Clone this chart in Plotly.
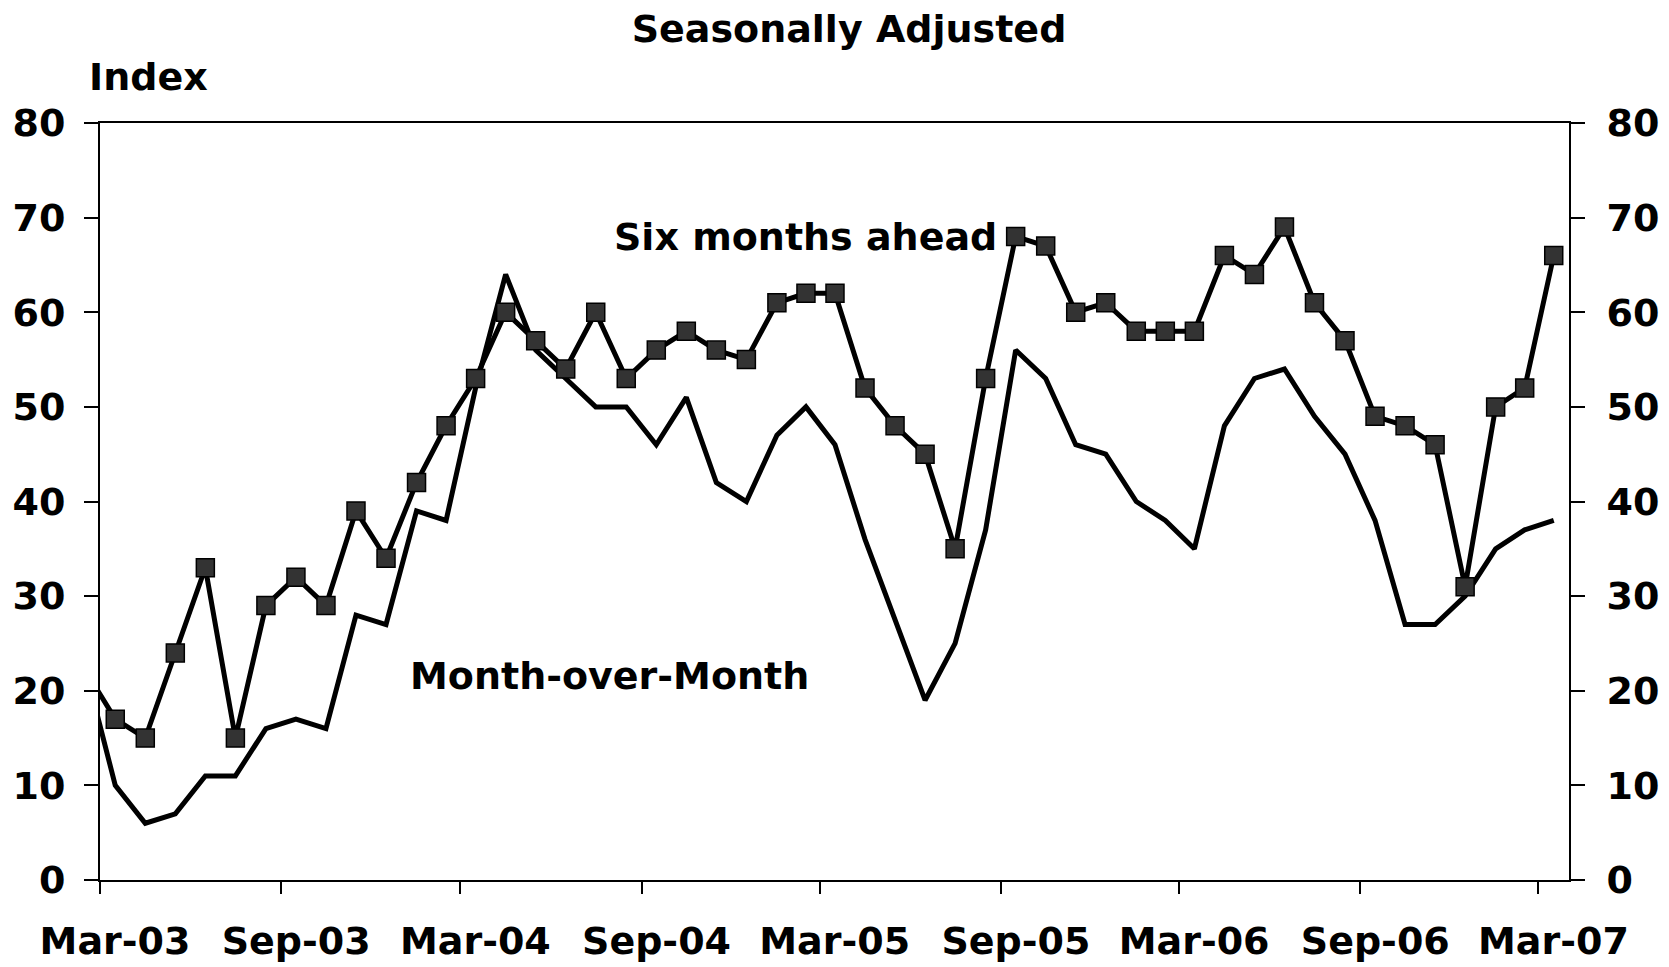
import pandas as pd
import plotly.graph_objects as go

# Monthly data, Feb-03 .. Mar-07 (Feb-03 only partly visible at the left edge)
months = pd.date_range("2003-02-01", periods=50, freq="MS")
six_months_ahead = [22, 17, 15, 24, 33, 15, 29, 32, 29, 39, 34, 42, 48, 53, 60, 57, 54,
                    60, 53, 56, 58, 56, 55, 61, 62, 62, 52, 48, 45, 35, 53, 68, 67,
                    60, 61, 58, 58, 58, 66, 64, 69, 61, 57, 49, 48, 46, 31, 50, 52, 66]
month_over_month = [22, 10, 6, 7, 11, 11, 16, 17, 16, 28, 27, 39, 38, 52, 64, 56, 53,
                    50, 50, 46, 51, 42, 40, 47, 50, 46, 36, 27.5, 19, 25, 37, 56, 53,
                    46, 45, 40, 38, 35, 48, 53, 54, 49, 45, 38, 27, 27, 30, 35, 37, 38]
tick_months = pd.date_range("2003-03-01", "2007-03-01", freq="6MS")
tick_labels = [d.strftime("%b-%y") for d in tick_months]

# centre of each month (category centre)
x_mid = [m + (m + pd.offsets.MonthBegin(1) - m) / 2 for m in months]

FONT = "DejaVu Sans"
fs = 38

fig = go.Figure()
fig.add_trace(go.Scatter(
    x=x_mid, y=month_over_month, mode="lines", name="Month-over-Month",
    line=dict(color="black", width=5), yaxis="y"))
fig.add_trace(go.Scatter(
    x=x_mid, y=six_months_ahead, mode="lines+markers", name="Six months ahead",
    line=dict(color="black", width=5),
    marker=dict(symbol="square", size=18, color="#333333",
                line=dict(color="black", width=1.5)),
    yaxis="y2"))

axis_font = dict(family=FONT, size=fs, color="black")
fig.update_layout(
    width=1669, height=967,
    margin=dict(l=100, r=100, t=123, b=87, autoexpand=False),
    paper_bgcolor="white", plot_bgcolor="white",
    showlegend=False,
    font=dict(family=FONT, color="black"),
    title=dict(text="<b>Seasonally Adjusted</b>", x=849 / 1669, xanchor="center",
               y=1 - 29 / 967, yanchor="middle",
               font=dict(family=FONT, size=fs, color="black")),
    xaxis=dict(
        type="date", range=["2003-03-01", "2007-04-01"], automargin=False,
        tickvals=list(tick_months), ticktext=[f"<b>{t}</b>" for t in tick_labels],
        ticks="outside", ticklen=12, tickwidth=2, tickcolor="black",
        showline=True, linecolor="black", linewidth=2, mirror=True,
        showgrid=False, zeroline=False,
        tickfont=axis_font, ticklabelshift=15, ticklabelstandoff=14),
    yaxis=dict(
        range=[0, 80], dtick=10, ticks="outside", ticklen=14, tickwidth=2,
        tickcolor="black", showline=True, linecolor="black", linewidth=2,
        showgrid=False, zeroline=False, tickfont=axis_font, automargin=False,
        tickprefix="<b>", ticksuffix="</b>", ticklabelstandoff=11),
    yaxis2=dict(
        range=[0, 80], dtick=10, overlaying="y", side="right", anchor="x",
        ticks="outside", ticklen=14, tickwidth=2, tickcolor="black",
        showline=True, linecolor="black", linewidth=2, automargin=False,
        showgrid=False, zeroline=False, tickfont=axis_font,
        tickprefix="<b>", ticksuffix="</b>", ticklabelstandoff=14),
    annotations=[
        dict(text="<b>Index</b>", xref="paper", yref="paper",
             x=(87 - 100) / 1469, y=1 + (123 - 77) / 757,
             xanchor="left", yanchor="middle", showarrow=False,
             font=dict(family=FONT, size=fs, color="black")),
        dict(text="<b>Six months ahead</b>", xref="x", yref="y",
             x="2005-02-15", y=68, xanchor="center", yanchor="middle",
             showarrow=False, font=dict(family=FONT, size=fs, color="black")),
        dict(text="<b>Month-over-Month</b>", xref="x", yref="y",
             x="2004-07-30", y=21.6, xanchor="center", yanchor="middle",
             showarrow=False, font=dict(family=FONT, size=fs, color="black")),
    ],
)

fig.write_html("out.html", config={"displayModeBar": False},
               post_script="document.body.style.margin='0';document.body.style.overflow='hidden';")
